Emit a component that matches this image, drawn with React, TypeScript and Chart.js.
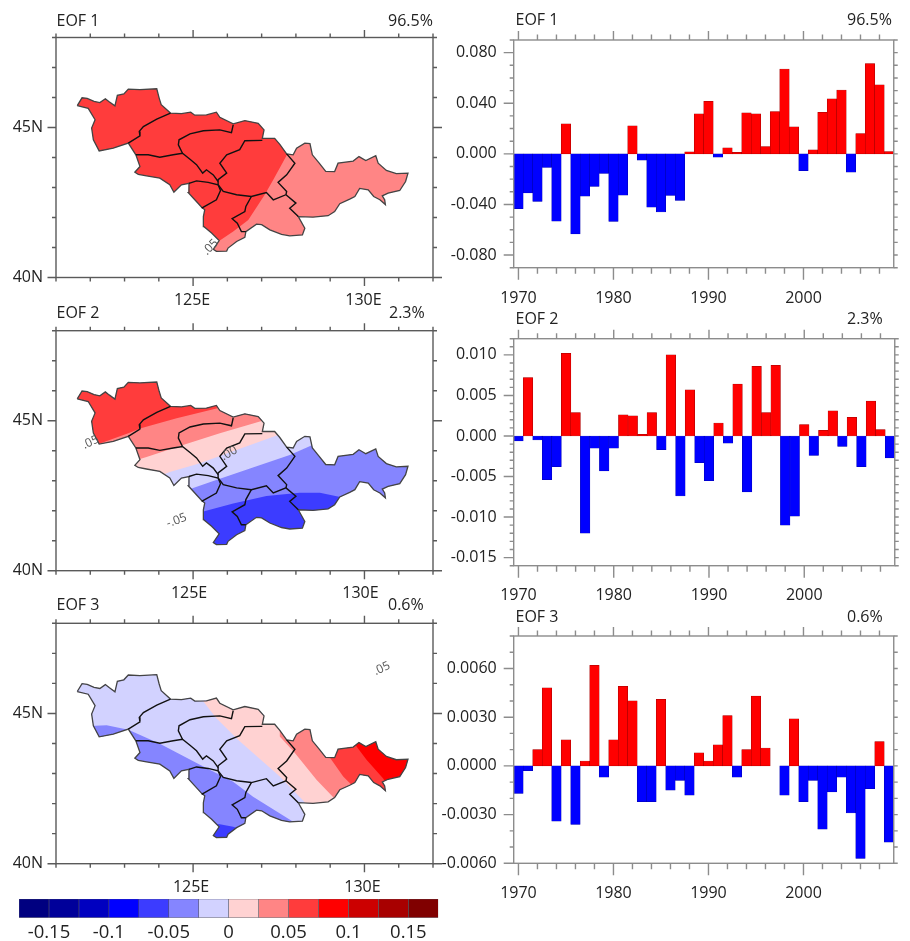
import React, { useEffect, useRef } from "react";
import { Chart, registerables } from "chart.js";

type Pt = [number, number];

const years = Array.from({ length: 40 }, (_, i) => String(1970 + i));

const pc1 = [-0.0434,-0.0308,-0.0376,-0.0108,-0.0532,0.0237,-0.0632,-0.0334,-0.0258,-0.0155,-0.0534,-0.0326,0.0221,-0.005,-0.0421,-0.046,-0.0329,-0.0368,0.0016,0.0316,0.0416,-0.0026,0.0047,0.0013,0.0324,0.0316,0.0058,0.0334,0.0671,0.0213,-0.0132,0.0032,0.0329,0.0434,0.0505,-0.0145,0.016,0.0713,0.0545,0.0018];
const pc2 = [-0.0006,0.0072,-0.0005,-0.0054,-0.0038,0.0102,0.0029,-0.012,-0.0015,-0.0043,-0.0015,0.0026,0.0025,0.0002,0.0029,-0.0017,0.01,-0.0074,0.0057,-0.0033,-0.0055,0.0016,-0.0009,0.0064,-0.0069,0.0086,0.0029,0.0087,-0.011,-0.0099,0.0014,-0.0024,0.0007,0.0031,-0.0013,0.0023,-0.0038,0.0043,0.0008,-0.0027];
const pc3 = [-0.0017,-0.0003,0.001,0.0048,-0.0034,0.0016,-0.0036,0.0003,0.0062,-0.0007,0.0016,0.0049,0.004,-0.0022,-0.0022,0.0041,-0.0015,-0.0009,-0.0018,0.0008,0.0003,0.0013,0.0031,-0.0007,0.001,0.0043,0.0011,0,-0.0018,0.0029,-0.0022,-0.0009,-0.0039,-0.0016,-0.0007,-0.0029,-0.0057,-0.0014,0.0015,-0.0047];

const colorEdges = [-0.175,-0.15,-0.125,-0.1,-0.075,-0.05,-0.025,0,0.025,0.05,0.075,0.1,0.125,0.15,0.175];
const colorFills = ["#000080","#00009a","#0000c0","#0000ff","#3c3cff","#8585ff","#d2d2ff","#ffd2d2","#ff8585","#ff3c3c","#ff0000","#cc0000","#a80000","#800000"];

const outerBoundary: Pt[] = [[121.62,45.73],[121.76,45.99],[121.91,45.97],[122.11,45.87],[122.28,45.83],[122.44,45.96],[122.55,45.86],[122.72,45.72],[122.79,46.07],[122.98,46.12],[123.11,46.28],[123.45,46.26],[123.94,46.29],[124.01,45.98],[124.07,45.76],[124.34,45.48],[124.66,45.46],[124.93,45.51],[125.05,45.41],[125.39,45.42],[125.68,45.51],[125.78,45.34],[126.17,45.12],[126.51,45.23],[126.9,45.14],[127.07,44.92],[127.02,44.64],[127.38,44.64],[127.53,44.44],[127.73,44.12],[127.92,44.09],[128.02,44.31],[128.26,44.48],[128.41,44.46],[128.48,44.09],[128.68,43.81],[128.87,43.54],[129.13,43.53],[129.23,43.81],[129.67,43.88],[129.84,44.03],[130.04,43.9],[130.33,44.06],[130.4,43.81],[130.64,43.57],[130.93,43.46],[131.27,43.48],[131.2,43.2],[131.03,42.9],[130.69,42.81],[130.52,42.72],[130.59,42.59],[130.61,42.43],[130.45,42.59],[130.27,42.7],[130.11,42.92],[129.86,42.97],[129.72,42.7],[129.57,42.61],[129.28,42.46],[129.13,42.2],[128.94,42.06],[128.5,42.01],[128.07,42.03],[128.26,41.64],[128.19,41.42],[127.82,41.39],[127.58,41.44],[127.24,41.59],[127,41.76],[126.85,41.78],[126.54,41.53],[126.51,41.34],[126.27,41.2],[126.02,40.98],[125.98,40.88],[125.68,40.87],[125.59,40.94],[125.76,41.23],[125.54,41.48],[125.31,41.7],[125.3,42.03],[125.34,42.26],[125.25,42.34],[125.05,42.59],[124.86,42.83],[124.88,43.14],[124.66,43.09],[124.44,42.84],[124.32,43.09],[124.03,43.31],[123.64,43.39],[123.4,43.44],[123.3,43.51],[123.45,43.7],[123.33,44.09],[123.11,44.48],[122.67,44.31],[122.26,44.22],[122.09,44.59],[122.04,44.98],[122.14,45.26],[121.94,45.64],[121.62,45.73]];

const borderA: Pt[] = [[124.34,45.48],[123.94,45.28],[123.55,45.03],[123.43,44.87],[123.45,44.72],[123.11,44.48]];
const borderB: Pt[] = [[123.33,44.09],[123.69,44.09],[124.03,44.01],[124.42,44.09],[124.69,44.14],[124.91,43.94],[125.1,43.76],[125.28,43.48],[125.39,43.59],[125.59,43.42],[125.73,43.2]];
const borderC: Pt[] = [[126.17,45.09],[126.12,44.83],[125.78,44.92],[125.3,44.89],[124.91,44.79],[124.59,44.59],[124.57,44.42],[124.69,44.14]];
const borderD: Pt[] = [[124.88,43.14],[125.1,43.22],[125.44,43.17],[125.73,43.09],[125.8,42.9],[125.68,42.59],[125.25,42.31]];
const borderE: Pt[] = [[127.02,44.57],[126.51,44.56],[126.36,44.26],[125.98,44.09],[125.78,43.81],[125.98,43.48],[125.73,43.26],[125.73,43.09]];
const borderF: Pt[] = [[125.73,43.09],[125.88,42.87],[126.27,42.76],[126.7,42.7],[127.14,42.83],[127.34,42.59],[127.71,42.76],[128,42.48],[127.82,42.31],[128.07,42.03]];
const borderG: Pt[] = [[127.73,44.12],[127.97,43.81],[127.73,43.42],[127.48,43.17],[127.73,42.87],[127.71,42.76]];
const borderH: Pt[] = [[126.7,42.7],[126.54,42.37],[126.51,42.2],[126.14,41.96],[126.29,41.81],[126.41,41.53],[126.54,41.53]];
const innerBorders = [borderA, borderB, borderC, borderD, borderE, borderF, borderG, borderH];

const eof1Band: Pt[] = [[127.82,44.2],[127.74,44.09],[127.34,43.26],[127.09,42.76],[126.61,41.92],[126.17,41.53],[125.78,41.23],[125.39,40.98],[121,40.98],[121,48],[127.82,48]];

const eof2Band5: Pt[] = [[124.23,41.47],[125.3,41.97],[126.17,42.24],[127.14,42.49],[128.11,42.6],[128.7,42.6],[129.57,42.39],[130.54,41.91],[132,41.91],[132,48],[121,48],[121,41.47]];
const eof2Band4: Pt[] = [[123.74,42.13],[124.96,42.74],[125.59,42.99],[126.66,43.41],[127.82,43.86],[128.45,44.17],[129.57,44.74],[132,44.74],[132,48],[121,48],[121,42.13]];
const eof2Band3: Pt[] = [[123.25,42.8],[124.32,43.29],[125.2,43.58],[125.98,43.91],[127.48,44.52],[129.09,45.19],[132,45.19],[132,48],[121,48],[121,42.8]];
const eof2Band2: Pt[] = [[122.28,43.24],[123.35,43.69],[123.62,43.78],[124.66,44.17],[125.78,44.58],[126.95,44.97],[127.43,45.13],[132,45.13],[132,48],[121,48],[121,43.24]];
const eof2Band1: Pt[] = [[121.31,43.8],[122.28,44.24],[123.11,44.58],[123.45,44.74],[124.52,45.08],[125.68,45.41],[126.36,45.63],[132,45.63],[132,48],[121,48],[121,43.8]];

const eof3Band1: Pt[] = [[125.2,41.4],[125.78,41.31],[126.17,41.23],[126.75,41.01],[132,41.01],[132,48],[121,48],[121,41.4]];
const eof3Band2: Pt[] = [[121.8,44.57],[122.48,44.61],[123.11,44.46],[124.03,43.99],[125.2,43.29],[126.17,42.73],[126.75,42.23],[127.92,41.4],[128.31,41.12],[132,41.12],[132,48],[121,48],[121,44.57]];
const eof3Band3: Pt[] = [[124.91,46.01],[125.3,45.4],[125.68,44.84],[126.32,44.12],[127.53,42.9],[128.21,42.1],[128.6,41.57],[132,41.57],[132,48],[124.91,48]];
const eof3Band4: Pt[] = [[127.53,44.23],[127.97,43.68],[128.6,42.79],[129.09,42.21],[129.47,41.79],[132,41.79],[132,48],[127.53,48]];
const eof3Band5: Pt[] = [[128.5,44.68],[128.7,44.12],[128.99,43.53],[129.38,42.9],[129.67,42.57],[130.06,42.12],[132,42.12],[132,48],[128.5,48]];
const eof3Band6: Pt[] = [[129.57,44.34],[129.77,43.9],[130.06,43.46],[130.54,42.84],[130.84,42.34],[132,42.34],[132,48],[129.57,48]];

const FONT = '"Open Sans", sans-serif';
const TEXT = "#222222";

const regionClip = {
  id: "regionClip",
  beforeDatasetDraw(chart: any, args: any) {
    const ds = chart.data.datasets[args.index];
    if (!ds.clipRegion) return;
    const { x, y } = chart.scales;
    const ctx = chart.ctx;
    ctx.save();
    ctx.beginPath();
    ds.clipRegion.forEach((p: Pt, i: number) => {
      const px = x.getPixelForValue(p[0]);
      const py = y.getPixelForValue(p[1]);
      if (i === 0) ctx.moveTo(px, py);
      else ctx.lineTo(px, py);
    });
    ctx.closePath();
    ctx.clip();
  },
  afterDatasetDraw(chart: any, args: any) {
    const ds = chart.data.datasets[args.index];
    if (ds.clipRegion) chart.ctx.restore();
  },
};

Chart.register(regionClip, ...registerables);

type FrameCfg = {
  color: string;
  width: number;
  xEvery: number;
  top: Pt;
  bottom: Pt;
  left: Pt;
  right: Pt;
  texts: { text: string; x: number; y: number }[];
  contourTexts?: { text: string; lon: number; lat: number; angle: number }[];
};

function framePlugin(cfg: FrameCfg) {
  return {
    id: "frame",
    afterDatasetsDraw(chart: any) {
      const { ctx, chartArea: a, scales } = chart;
      ctx.save();
      (cfg.contourTexts || []).forEach((c) => {
        ctx.save();
        ctx.translate(scales.x.getPixelForValue(c.lon), scales.y.getPixelForValue(c.lat));
        ctx.rotate((c.angle * Math.PI) / 180);
        ctx.font = `12px ${FONT}`;
        ctx.fillStyle = "#555555";
        ctx.textAlign = "center";
        ctx.textBaseline = "middle";
        ctx.fillText(c.text, 0, 0);
        ctx.restore();
      });
      ctx.strokeStyle = cfg.color;
      ctx.lineWidth = cfg.width;
      ctx.strokeRect(a.left, a.top, a.right - a.left, a.bottom - a.top);
      ctx.beginPath();
      scales.x.ticks.forEach((t: any, i: number) => {
        if (i % cfg.xEvery !== 0) return;
        const px = scales.x.getPixelForTick(i);
        const m = t.label !== "" ? 0 : 1;
        ctx.moveTo(px, a.top);
        ctx.lineTo(px, a.top - cfg.top[m]);
        ctx.moveTo(px, a.bottom);
        ctx.lineTo(px, a.bottom + cfg.bottom[m]);
      });
      scales.y.ticks.forEach((t: any, i: number) => {
        const py = scales.y.getPixelForTick(i);
        const m = t.label !== "" ? 0 : 1;
        ctx.moveTo(a.left, py);
        ctx.lineTo(a.left - cfg.left[m], py);
        ctx.moveTo(a.right, py);
        ctx.lineTo(a.right + cfg.right[m], py);
      });
      ctx.stroke();
      ctx.font = `16px ${FONT}`;
      ctx.fillStyle = TEXT;
      ctx.textAlign = "left";
      ctx.textBaseline = "middle";
      cfg.texts.forEach((t) => ctx.fillText(t.text, t.x, t.y));
      ctx.restore();
    },
  };
}

function toXY(points: Pt[]) {
  return points.map((p) => ({ x: p[0], y: p[1] }));
}

function useChart(build: (c: HTMLCanvasElement) => Chart) {
  const ref = useRef<HTMLCanvasElement>(null);
  useEffect(() => {
    const chart = build(ref.current as HTMLCanvasElement);
    return () => chart.destroy();
  }, []);
  return ref;
}

const canvasStyle = (left: number, top: number, w: number, h: number): React.CSSProperties => ({
  position: "absolute",
  left,
  top,
  width: w,
  height: h,
});

type MapProps = {
  canvasTop: number;
  boxTop: number;
  boxBottom: number;
  title: string;
  pct: string;
  titleY: number;
  pctX: number;
  labelPad: number;
  labelShift: number;
  base: string;
  bands: { color: string; poly: Pt[] }[];
  contourTexts: { text: string; lon: number; lat: number; angle: number }[];
};

function MapPanel(p: MapProps) {
  const W = 450;
  const H = 310;
  const ref = useChart((canvas) => {
    const lineSets = innerBorders.map((b) => ({
      data: toXY(b),
      borderColor: "#111111",
      borderWidth: 1.4,
      pointRadius: 0,
      fill: false,
      tension: 0,
    }));
    const outline = {
      data: toXY(outerBoundary),
      borderColor: "#444444",
      borderWidth: 1.3,
      pointRadius: 0,
      fill: false,
      tension: 0,
    };
    const bandSets = [...p.bands].reverse().map((b) => ({
      data: toXY(b.poly),
      backgroundColor: b.color,
      borderWidth: 0,
      pointRadius: 0,
      fill: "shape",
      tension: 0,
      clipRegion: outerBoundary,
    }));
    const base = {
      data: toXY(outerBoundary),
      backgroundColor: p.base,
      borderWidth: 0,
      pointRadius: 0,
      fill: "shape",
      tension: 0,
    };
    return new Chart(canvas, {
      type: "line",
      data: { datasets: [...lineSets, outline, ...bandSets, base] as any },
      options: {
        animation: false,
        responsive: false,
        layout: { padding: { top: p.boxTop - p.canvasTop, right: W - 433, left: 0, bottom: 0 } },
        plugins: { legend: { display: false }, tooltip: { enabled: false } },
        scales: {
          x: {
            type: "linear",
            min: 121,
            max: 132,
            grid: { display: false, drawTicks: false },
            border: { display: false },
            afterFit: (s: any) => { s.height = H - (p.boxBottom - p.canvasTop); },
            ticks: {
              stepSize: 1,
              autoSkip: false,
              maxRotation: 0,
              padding: p.labelPad,
              labelOffset: p.labelShift,
              color: TEXT,
              font: { family: FONT, size: 16 },
              callback: (v: any) => (v === 125 || v === 130 ? `${v}E` : ""),
            },
          },
          y: {
            type: "linear",
            min: 40,
            max: 48,
            grid: { display: false, drawTicks: false },
            border: { display: false },
            afterFit: (s: any) => { s.width = 56; },
            ticks: {
              stepSize: 1,
              autoSkip: false,
              padding: 13,
              color: TEXT,
              font: { family: FONT, size: 16 },
              callback: (v: any) => (v === 40 || v === 45 ? `${v}N` : ""),
            },
          },
        },
      } as any,
      plugins: [
        framePlugin({
          color: "#5a5a5a",
          width: 1.4,
          xEvery: 1,
          top: [7.5, 4],
          bottom: [8.5, 4],
          left: [8.5, 4],
          right: [9, 4],
          contourTexts: p.contourTexts,
          texts: [
            { text: p.title, x: 56.5, y: p.titleY - p.canvasTop },
            { text: p.pct, x: p.pctX, y: p.titleY - p.canvasTop },
          ],
        }) as any,
      ],
    });
  });
  return <canvas ref={ref} width={W} height={H} style={canvasStyle(0, p.canvasTop, W, H)} />;
}

type BarProps = {
  canvasTop: number;
  boxTop: number;
  boxBottom: number;
  title: string;
  pct: string;
  titleY: number;
  values: number[];
  yMin: number;
  yMax: number;
  labelStep: number;
  decimals: number;
  minorStep: number;
  labelPad: number;
};

function BarPanel(p: BarProps) {
  const L = 435;
  const W = 475;
  const H = 310;
  const ref = useChart((canvas) => {
    return new Chart(canvas, {
      type: "bar",
      data: {
        labels: years,
        datasets: [
          {
            data: p.values,
            backgroundColor: (c: any) => (c.raw >= 0 ? "#ff0000" : "#0000ff"),
            borderColor: (c: any) => (c.raw >= 0 ? "#9a0000" : "#0000a8"),
            borderWidth: 0.5,
            borderSkipped: false,
            barPercentage: 1,
            categoryPercentage: 1,
          },
        ],
      },
      options: {
        animation: false,
        responsive: false,
        layout: { padding: { top: p.boxTop - p.canvasTop, right: W - (909 - L), left: 0, bottom: 0 } },
        plugins: { legend: { display: false }, tooltip: { enabled: false } },
        scales: {
          x: {
            type: "category",
            grid: { display: false, drawTicks: false },
            border: { display: false },
            afterFit: (s: any) => { s.height = H - (p.boxBottom - p.canvasTop); },
            ticks: {
              autoSkip: false,
              maxRotation: 0,
              padding: p.labelPad,
              color: TEXT,
              font: { family: FONT, size: 16 },
              callback: (_v: any, i: number) => (i % 10 === 0 ? years[i] : ""),
            },
          },
          y: {
            type: "linear",
            min: p.yMin,
            max: p.yMax,
            grid: { display: false, drawTicks: false },
            border: { display: false },
            afterFit: (s: any) => { s.width = 513.7 - L; },
            ticks: {
              stepSize: p.minorStep,
              autoSkip: false,
              padding: 17,
              color: TEXT,
              font: { family: FONT, size: 16 },
              callback: (v: any) => {
                const q = v / p.labelStep;
                if (Math.abs(q - Math.round(q)) > 1e-6) return "";
                return (Math.abs(v) < 1e-9 ? 0 : v).toFixed(p.decimals);
              },
            },
          },
        },
      } as any,
      plugins: [
        framePlugin({
          color: "#8c8c8c",
          width: 1.4,
          xEvery: 2,
          top: [9, 5.5],
          bottom: [12, 6],
          left: [10, 4],
          right: [4, 4],
          texts: [
            { text: p.title, x: 515.5 - L, y: p.titleY - p.canvasTop },
            { text: p.pct, x: 847 - L, y: p.titleY - p.canvasTop },
          ],
        }) as any,
      ],
    });
  });
  return <canvas ref={ref} width={W} height={H} style={canvasStyle(L, p.canvasTop, W, H)} />;
}

function ColorBar() {
  const W = 450;
  const H = 51;
  const ref = useChart((canvas) => {
    return new Chart(canvas, {
      type: "bar",
      data: {
        labels: [""],
        datasets: colorFills.map((c, i) => ({
          data: [[colorEdges[i], colorEdges[i + 1]]],
          backgroundColor: c,
          borderColor: "#55555f",
          borderWidth: 0.6,
          borderSkipped: false,
          barPercentage: 1,
          categoryPercentage: 1,
          grouped: false,
        })) as any,
      },
      options: {
        indexAxis: "y",
        animation: false,
        responsive: false,
        layout: { padding: { top: 9, right: W - 438.3, left: 19, bottom: 0 } },
        plugins: { legend: { display: false }, tooltip: { enabled: false } },
        scales: {
          y: { display: false, type: "category" },
          x: {
            type: "linear",
            min: -0.175,
            max: 0.175,
            grid: { display: false, drawTicks: false },
            border: { display: false },
            afterFit: (s: any) => { s.height = H - 27.7; },
            ticks: {
              stepSize: 0.025,
              autoSkip: false,
              maxRotation: 0,
              padding: 4,
              color: TEXT,
              font: { family: FONT, size: 18.5 },
              callback: (v: any) => {
                const q = v / 0.05;
                if (Math.abs(q - Math.round(q)) > 1e-6) return "";
                return Math.abs(v) < 1e-9 ? "0" : String(+Number(v).toFixed(2));
              },
            },
          },
        },
      } as any,
    });
  });
  return <canvas ref={ref} width={W} height={H} style={canvasStyle(0, 890, W, H)} />;
}

export default function App() {
  return (
    <div style={{ position: "absolute", left: 0, top: 0, width: 910, height: 941, overflow: "hidden", background: "#fff", filter: "blur(0.4px)" }}>
      <MapPanel
        canvasTop={0} boxTop={37.5} boxBottom={277.5} title="EOF 1" pct="96.5%" titleY={21} pctX={388} labelPad={13} labelShift={-1}
        base="#ff8585"
        bands={[{ color: "#ff3c3c", poly: eof1Band }]}
        contourTexts={[{ text: ".05", lon: 125.51, lat: 41.01, angle: -45 }]}
      />
      <MapPanel
        canvasTop={293} boxTop={330.7} boxBottom={570.7} title="EOF 2" pct="2.3%" titleY={313} pctX={389} labelPad={13} labelShift={-4}
        base="#3c3cff"
        bands={[
          { color: "#8585ff", poly: eof2Band5 },
          { color: "#d2d2ff", poly: eof2Band4 },
          { color: "#ffd2d2", poly: eof2Band3 },
          { color: "#ff8585", poly: eof2Band2 },
          { color: "#ff3c3c", poly: eof2Band1 },
        ]}
        contourTexts={[
          { text: ".05", lon: 122.01, lat: 44.28, angle: -25 },
          { text: ".00", lon: 126.05, lat: 43.91, angle: -30 },
          { text: "-.05", lon: 124.52, lat: 41.67, angle: -20 },
        ]}
      />
      <MapPanel
        canvasTop={585} boxTop={623.3} boxBottom={863.7} title="EOF 3" pct="0.6%" titleY={605} pctX={388} labelPad={14} labelShift={-2}
        base="#3c3cff"
        bands={[
          { color: "#8585ff", poly: eof3Band1 },
          { color: "#d2d2ff", poly: eof3Band2 },
          { color: "#ffd2d2", poly: eof3Band3 },
          { color: "#ff8585", poly: eof3Band4 },
          { color: "#ff3c3c", poly: eof3Band5 },
          { color: "#ff0000", poly: eof3Band6 },
        ]}
        contourTexts={[{ text: ".05", lon: 130.51, lat: 46.49, angle: -25 }]}
      />
      <BarPanel canvasTop={0} boxTop={40} boxBottom={267.7} title="EOF 1" pct="96.5%" titleY={20} values={pc1}
        yMin={-0.09} yMax={0.09} minorStep={0.01} labelStep={0.04} decimals={3} labelPad={21} />
      <BarPanel canvasTop={295} boxTop={338.7} boxBottom={565.7} title="EOF 2" pct="2.3%" titleY={319} values={pc2}
        yMin={-0.016} yMax={0.012} minorStep={0.001} labelStep={0.005} decimals={3} labelPad={20} />
      <BarPanel canvasTop={590} boxTop={636} boxBottom={863.3} title="EOF 3" pct="0.6%" titleY={617} values={pc3}
        yMin={-0.006} yMax={0.008} minorStep={0.001} labelStep={0.003} decimals={4} labelPad={21} />
      <ColorBar />
    </div>
  );
}
